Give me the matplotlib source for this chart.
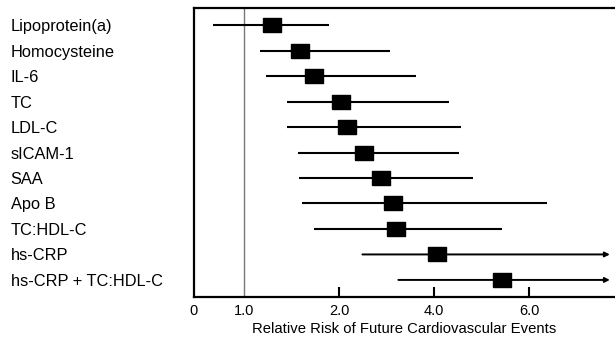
import matplotlib
matplotlib.use("Agg")
import matplotlib.pyplot as plt

# markers, relative risk and 95% CI
markers = ["Lipoprotein(a)", "Homocysteine", "IL-6", "TC", "LDL-C", "sICAM-1",
           "SAA", "Apo B", "TC:HDL-C", "hs-CRP", "hs-CRP + TC:HDL-C"]
rr = [1.23, 1.50, 1.67, 2.03, 2.12, 2.40, 2.72, 2.97, 3.03, 4.09, 6.57]
ci_low = [0.80, 1.12, 1.17, 1.37, 1.37, 1.48, 1.49, 1.52, 1.67, 2.37, 3.08]
ci_high = [1.86, 2.90, 3.51, 4.46, 4.87, 4.80, 5.32, 9.12, 6.57, 14.4, 14.4]
open_ended = [False] * 9 + [True, True]

tick_vals = [0.694, 1, 2, 4, 8]
tick_labels = ["0", "1.0", "2.0", "4.0", "6.0"]

plt.rcParams["font.family"] = ["Liberation Sans", "DejaVu Sans"]

fig = plt.figure(figsize=(6.15, 3.37), dpi=100)
ax = fig.add_axes([194 / 615, 1 - 297 / 337, 1 - 194 / 615, (297 - 8) / 337])
ax.set_xscale("log", base=2)
ax.set_xlim(0.694, 14.95)
ax.set_ylim(len(markers) - 0.33, -0.67)

ax.axvline(1, color="#777777", lw=1.0, zorder=1)

box = [(-9, -7), (9, -7), (9, 7), (-9, 7), (-9, -7)]
for i in range(len(markers)):
    if open_ended[i]:
        ax.annotate("", xy=(ci_high[i], i), xytext=(ci_low[i], i),
                    arrowprops=dict(arrowstyle="-|>", lw=1.4, color="black",
                                    mutation_scale=7, shrinkA=0, shrinkB=0))
    else:
        ax.plot([ci_low[i], ci_high[i]], [i, i], color="black", lw=1.5,
                solid_capstyle="butt", zorder=2)
    ax.plot(rr[i], i, marker=box, markersize=12.96, color="black",
            linestyle="none", zorder=3)

ax.set_xticks(tick_vals)
ax.set_xticklabels(tick_labels, fontsize=10.5)
ax.xaxis.set_minor_locator(matplotlib.ticker.NullLocator())
ax.tick_params(axis="x", direction="in", length=7, width=1.5, pad=5)
ax.xaxis.get_major_ticks()[0].tick1line.set_visible(False)
ax.xaxis.get_major_ticks()[1].tick1line.set_visible(False)

ax.set_yticks(range(len(markers)))
ax.set_yticklabels(markers, fontsize=11.8)
ax.tick_params(axis="y", length=0, pad=132)
for lab in ax.get_yticklabels():
    lab.set_ha("left")

ax.set_xlabel("Relative Risk of Future Cardiovascular Events", fontsize=10.7,
              labelpad=3)

ax.spines["right"].set_visible(False)
for s in ["left", "bottom", "top"]:
    ax.spines[s].set_linewidth(1.6)

fig.savefig("out.png", dpi=100)
